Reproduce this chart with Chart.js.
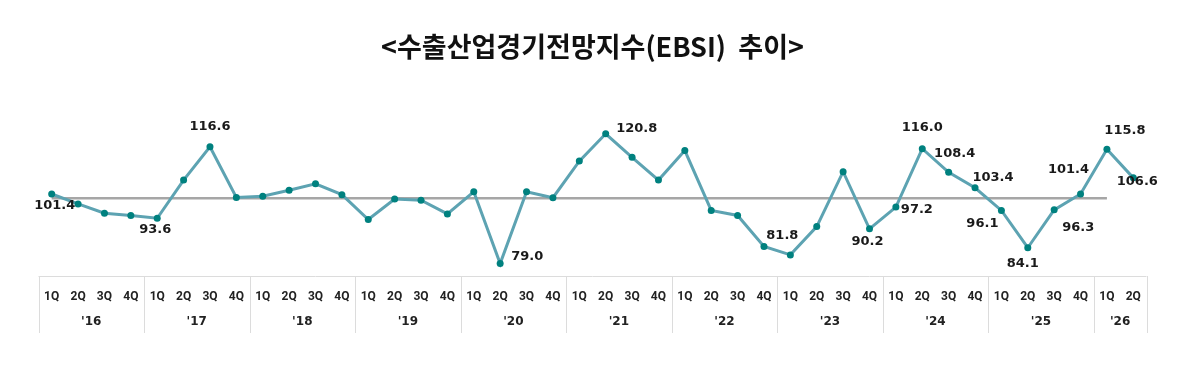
<!DOCTYPE html>
<html>
<head>
<meta charset="utf-8">
<script src="https://cdn.jsdelivr.net/npm/chart.js@4.4.1/dist/chart.umd.min.js"></script>
<style>
html,body{margin:0;padding:0;background:#fff;}
#wrap{width:1198px;height:374px;}
</style>
</head>
<body>
<div id="wrap"><canvas id="c" width="1198" height="374"></canvas></div>
<script>
// ---- data ----
const TITLE = '<수출산업경기전망지수(EBSI)  추이>';
const quarters = ['1Q','2Q','3Q','4Q'];
const years = ["'16","'17","'18","'19","'20","'21","'22","'23","'24","'25","'26"];
const quartersPerYear = [4,4,4,4,4,4,4,4,4,4,2];
const ebsi = [101.4, 98.2, 95.2, 94.5, 93.6, 105.9, 116.6, 100.3, 100.7, 102.6, 104.7, 101.2,
              93.2, 99.8, 99.4, 95.0, 102.1, 79.0, 102.1, 100.2, 112.0, 120.8, 113.2, 105.9,
              115.4, 96.1, 94.5, 84.5, 81.8, 90.9, 108.6, 90.2, 97.2, 116.0, 108.4, 103.4,
              96.1, 84.1, 96.3, 101.4, 115.8, 106.6];
const baseline = 100;
const baselineLastIndex = 40;
// indices of points that carry a value label
const labeledIdx = [0, 4, 6, 17, 21, 28, 31, 32, 33, 34, 35, 36, 37, 38, 39, 40, 41];

// ---- build category labels ----
const labels = [];
years.forEach((y, yi) => {
  for (let q = 0; q < quartersPerYear[yi]; q++) labels.push(quarters[q]);
});

// label placement (offset of label centre from the point, px)
const labelOffset = {
  0: [3, 12], 4: [-2, 11], 6: [0, -20], 17: [27, -7], 21: [31, -5], 28: [-8, -19],
  31: [-2, 13], 32: [21, 3], 33: [0, -21], 34: [6, -19], 35: [18, -10], 36: [-19, 13],
  37: [-5, 16], 38: [24, 18], 39: [-12, -24], 40: [18, -19], 41: [4, 4]
};

const LINE = '#5da3b2';
const POINT = '#00817f';

const decor = {
  id: 'decor',
  beforeDatasetsDraw(chart) {
    const {ctx, scales: {x, y}} = chart;
    ctx.save();
    ctx.strokeStyle = '#a6a6a6';
    ctx.lineWidth = 2.5;
    const py = y.getPixelForValue(baseline);
    ctx.beginPath();
    ctx.moveTo(x.getPixelForValue(0), py);
    ctx.lineTo(x.getPixelForValue(baselineLastIndex), py);
    ctx.stroke();
    ctx.restore();
  },
  afterDraw(chart) {
    const {ctx, scales: {x}, chartArea} = chart;
    const half = (x.getPixelForValue(1) - x.getPixelForValue(0)) / 2;
    const top = chartArea.bottom;
    const bottom = top + 57;
    ctx.save();
    ctx.strokeStyle = '#dcdcdc';
    ctx.lineWidth = 1;
    const left = x.getPixelForValue(0) - half;
    const right = x.getPixelForValue(labels.length - 1) + half;
    ctx.beginPath();
    ctx.moveTo(left, top + 0.5);
    ctx.lineTo(right, top + 0.5);
    ctx.stroke();
    ctx.fillStyle = '#222';
    ctx.font = 'bold 12px "DejaVu Sans", sans-serif';
    ctx.textAlign = 'center';
    ctx.textBaseline = 'middle';
    let start = 0;
    const xs = [left];
    years.forEach((yr, yi) => {
      const end = start + quartersPerYear[yi] - 1;
      const xl = x.getPixelForValue(start) - half;
      const xr = x.getPixelForValue(end) + half;
      ctx.fillText(yr, (xl + xr) / 2, top + 46);
      xs.push(xr);
      start = end + 1;
    });
    xs.forEach(px => {
      ctx.beginPath();
      ctx.moveTo(Math.round(px) + 0.5, top);
      ctx.lineTo(Math.round(px) + 0.5, bottom);
      ctx.stroke();
    });
    const meta = chart.getDatasetMeta(0);
    ctx.font = 'bold 13px "DejaVu Sans", sans-serif';
    ctx.fillStyle = '#1a1a1a';
    labeledIdx.forEach(i => {
      const pt = meta.data[i];
      const off = labelOffset[i] || [0, -16];
      ctx.fillText(ebsi[i].toFixed(1), pt.x + off[0], pt.y + off[1]);
    });
    ctx.restore();
  }
};

new Chart(document.getElementById('c'), {
  type: 'line',
  data: {
    labels: labels,
    datasets: [{
      data: ebsi,
      borderColor: LINE,
      borderWidth: 3,
      pointBackgroundColor: POINT,
      pointBorderColor: POINT,
      pointRadius: 3.5,
      pointBorderWidth: 0,
      tension: 0
    }]
  },
  options: {
    responsive: false,
    animation: false,
    events: [],
    layout: { padding: { left: 38.5, right: 51.5, top: 0, bottom: 55.6 } },
    plugins: {
      legend: { display: false },
      tooltip: { enabled: false },
      title: {
        display: true,
        text: TITLE,
        color: '#111',
        font: { family: '"Noto Sans CJK KR", sans-serif', size: 27, weight: 'bold', lineHeight: 1.2 },
        padding: { top: 30.8, bottom: 42 }
      }
    },
    scales: {
      x: {
        type: 'category',
        offset: true,
        grid: { display: false, drawTicks: false, tickLength: 0 },
        border: { display: false },
        ticks: {
          autoSkip: false,
          maxRotation: 0,
          padding: 14,
          color: '#222',
          font: { family: 'Roboto, sans-serif', size: 12, weight: 'bold' }
        }
      },
      y: {
        display: false,
        min: 75,
        max: 130
      }
    }
  },
  plugins: [decor]
});
</script>
</body>
</html>
